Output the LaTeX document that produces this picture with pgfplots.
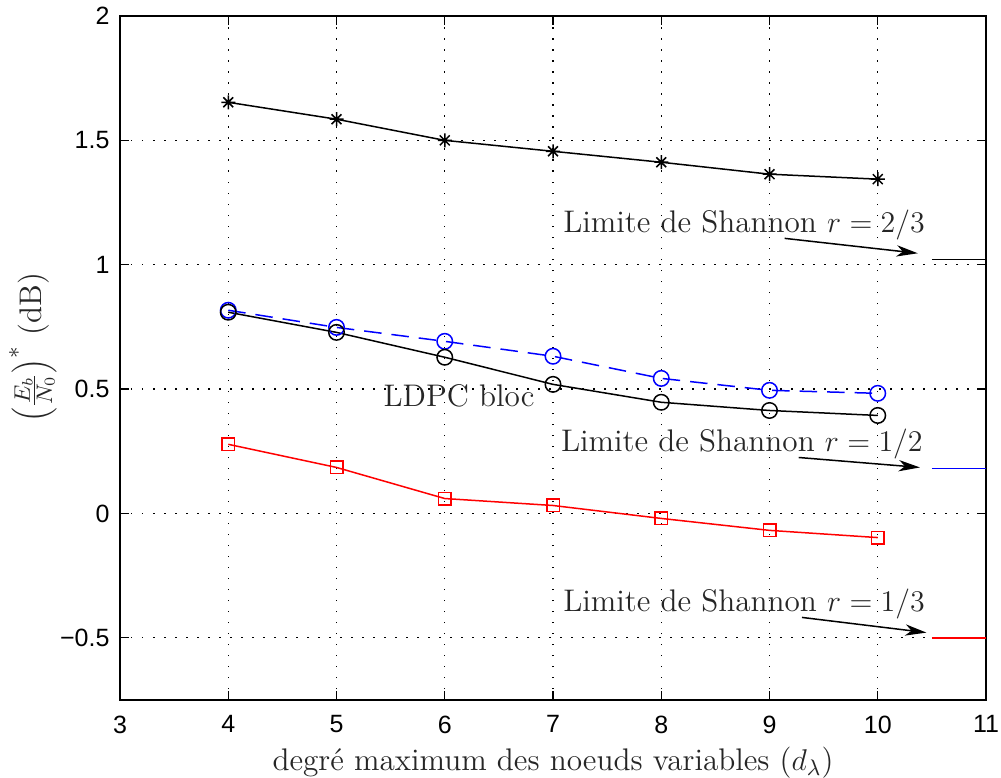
\documentclass[border=0pt]{standalone}
\usepackage{fontspec}
\usepackage{pgfplots}
\pgfplotsset{compat=1.18}
\usetikzlibrary{calc,arrows.meta}
\newfontfamily\arialfont{Liberation Sans}
\pgfdeclareplotmark{mstar}{%
  \pgfpathmoveto{\pgfqpoint{-\pgfplotmarksize}{0pt}}\pgfpathlineto{\pgfqpoint{\pgfplotmarksize}{0pt}}%
  \pgfpathmoveto{\pgfqpoint{0pt}{-\pgfplotmarksize}}\pgfpathlineto{\pgfqpoint{0pt}{\pgfplotmarksize}}%
  \pgfpathmoveto{\pgfqpoint{-0.707\pgfplotmarksize}{-0.707\pgfplotmarksize}}\pgfpathlineto{\pgfqpoint{0.707\pgfplotmarksize}{0.707\pgfplotmarksize}}%
  \pgfpathmoveto{\pgfqpoint{-0.707\pgfplotmarksize}{0.707\pgfplotmarksize}}\pgfpathlineto{\pgfqpoint{0.707\pgfplotmarksize}{-0.707\pgfplotmarksize}}%
  \pgfusepathqstroke}
\begin{document}
\begin{tikzpicture}
\begin{axis}[
  scale only axis, width=346.4pt, height=273.6pt,
  xmin=3, xmax=11, ymin=-0.75, ymax=2,
  xtick={3,4,5,6,7,8,9,10,11}, xticklabels={3,4,5,6,7,8,9,10,11},
  ytick={-0.5,0,0.5,1,1.5,2}, yticklabels={−0.5,0,0.5,1,1.5,2},
  ticklabel style={font=\arialfont\fontsize{10}{12}\selectfont, text=black},
  xticklabel style={yshift=-2.7pt},
  yticklabel style={xshift=-0.7pt},
  tick align=inside, major tick length=3.5pt,
  tick style={black, line width=0.5pt},
  axis line style={black, line width=0.6pt},
  grid=major,
  major grid style={black, line width=0.5pt, dash pattern=on 0.6pt off 3.8pt},
  xlabel={degré maximum des noeuds variables ($d_\lambda$)},
  ylabel={$\left(\frac{E_b}{N_0}\right)^{*}$ (dB)},
  label style={font=\fontsize{12.5}{15}\selectfont, text=black!85},
  xlabel style={at={(axis description cs:0.5,0)}, anchor=base, yshift=-28pt},
  ylabel style={at={(axis description cs:-0.1005,0.515)}, anchor=center},
  every axis plot/.append style={line width=0.6pt},
]
\addplot[black, mark=mstar, mark size=2.8pt] coordinates {(4,1.653)(5,1.585)(6,1.500)(7,1.456)(8,1.412)(9,1.364)(10,1.344)};
\addplot[blue, dash pattern=on 7pt off 4pt, mark=o, mark size=3.1pt, mark options={solid}] coordinates {(4,0.817)(5,0.748)(6,0.692)(7,0.632)(8,0.543)(9,0.495)(10,0.483)};
\addplot[black, mark=o, mark size=3.1pt] coordinates {(4,0.809)(5,0.728)(6,0.628)(7,0.519)(8,0.447)(9,0.414)(10,0.394)};
\addplot[red, mark=square, mark size=2.5pt] coordinates {(4,0.278)(5,0.185)(6,0.060)(7,0.032)(8,-0.020)(9,-0.068)(10,-0.097)};
\addplot[black, no marks] coordinates {(10.5,1.02)(11,1.02)};
\addplot[blue, no marks] coordinates {(10.5,0.181)(11,0.181)};
\addplot[red, no marks] coordinates {(10.5,-0.5)(11,-0.5)};
\draw[black, line width=0.6pt, -{Stealth[length=8.5pt,width=4.5pt,inset=2.5pt]}] (axis cs:9.14,1.106) -- (axis cs:10.37,1.046);
\draw[black, line width=0.6pt, -{Stealth[length=8.5pt,width=4.5pt,inset=2.5pt]}] (axis cs:9.27,0.225) -- (axis cs:10.39,0.185);
\draw[black, line width=0.6pt, -{Stealth[length=8.5pt,width=4.5pt,inset=2.5pt]}] (axis cs:9.30,-0.418) -- (axis cs:10.45,-0.479);
\node[anchor=base west, inner sep=0pt, font=\fontsize{12.5}{15}\selectfont, text=black!85] at (axis cs:7.09,1.130) {Limite de Shannon $r=2/3$};
\node[anchor=base west, inner sep=0pt, font=\fontsize{12.5}{15}\selectfont, text=black!85] at (axis cs:7.07,0.251) {Limite de Shannon $r=1/2$};
\node[anchor=base west, inner sep=0pt, font=\fontsize{12.5}{15}\selectfont, text=black!85] at (axis cs:7.09,-0.395) {Limite de Shannon $r=1/3$};
\node[anchor=base west, inner sep=0pt, font=\fontsize{12.5}{15}\selectfont, text=black!85] at (axis cs:5.43,0.430) {LDPC bloc};
\end{axis}
\pgfresetboundingbox
\path[use as bounding box] ($(current axis.south west)+(-48pt,-30.8pt)$) rectangle ($(current axis.north east)+(6pt,6.4pt)$);
\end{tikzpicture}
\end{document}
